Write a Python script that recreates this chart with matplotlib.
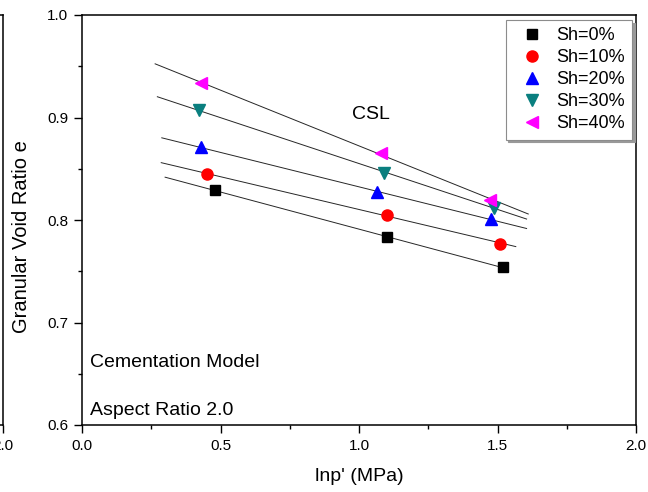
import numpy as np
import matplotlib.pyplot as plt

plt.rcParams['font.family'] = ['Liberation Sans', 'DejaVu Sans']

# datos
labels = ['Sh=0%', 'Sh=10%', 'Sh=20%', 'Sh=30%', 'Sh=40%']
x0 = [0.481, 1.100, 1.519]
y0 = [0.829, 0.783, 0.754]
x10 = [0.450, 1.100, 1.509]
y10 = [0.845, 0.805, 0.777]
x20 = [0.430, 1.066, 1.475]
y20 = [0.871, 0.827, 0.801]
x30 = [0.424, 1.091, 1.488]
y30 = [0.907, 0.846, 0.812]
x40 = [0.428, 1.080, 1.473]
y40 = [0.934, 0.865, 0.820]
# rango de cada recta de ajuste
fit_start = [0.300, 0.286, 0.288, 0.272, 0.264]
fit_end = [1.520, 1.566, 1.605, 1.605, 1.611]

xs = [x0, x10, x20, x30, x40]
ys = [y0, y10, y20, y30, y40]
markers = ['s', 'o', '^', 'v', '<']
colors = ['#000000', '#ff0000', '#0000ff', '#0a7f7f', '#ff00ff']
sizes = [6.5, 8, 8, 8, 8]

W, H = 648, 492
fig = plt.figure(figsize=(W / 100, H / 100), dpi=100)
pos = [82 / W, (H - 425) / H, 554 / W, 410 / H]
ax = fig.add_axes(pos)

# panel vecino cortado a la izquierda (solo se ve su borde derecho)
ax0 = fig.add_axes([2.7 / W - pos[2], pos[1], pos[2], pos[3]])
ax0.set_xlim(0, 2)
ax0.set_ylim(0.6, 1.0)
ax0.set_xticks([2.0])
ax0.set_xticklabels(['2.0'])
ax0.set_yticks([])
ax0.tick_params(axis='x', direction='out', length=6, width=1, labelsize=11, pad=4)

handles = []
for i in range(len(labels)):
    a, b = np.polyfit(xs[i], ys[i], 1)
    xl = np.array([fit_start[i], fit_end[i]])
    ax.plot(xl, a * xl + b, color='0.15', lw=0.7, zorder=2)
for i in range(len(labels)):
    h, = ax.plot(xs[i], ys[i], ls='none', marker=markers[i], ms=sizes[i],
                 color=colors[i], mec=colors[i], label=labels[i], zorder=3)
    handles.append(h)

ax.set_xlim(0, 2)
ax.set_ylim(0.6, 1.0)
ax.set_xticks([0.0, 0.5, 1.0, 1.5, 2.0])
ax.set_yticks([0.6, 0.7, 0.8, 0.9, 1.0])
ax.set_xticks([0.25, 0.75, 1.25, 1.75], minor=True)
ax.set_yticks([0.65, 0.75, 0.85, 0.95], minor=True)
ax.xaxis.set_major_formatter(plt.FormatStrFormatter('%.1f'))
ax.yaxis.set_major_formatter(plt.FormatStrFormatter('%.1f'))
ax.tick_params(which='major', direction='out', length=6, width=1, labelsize=11, pad=4)
ax.tick_params(which='minor', direction='out', length=3, width=1)
for s in ax.spines.values():
    s.set_linewidth(1.1)
for s in ax0.spines.values():
    s.set_linewidth(1.1)

ax.set_xlabel("lnp' (MPa)", fontsize=14, labelpad=11)
ax.set_ylabel('Granular Void Ratio e', fontsize=14.5)
ax.yaxis.set_label_coords(-51 / 554, 0.46)

ax.text(352 / W, 1 - 119 / H, 'CSL', transform=fig.transFigure, fontsize=14)
ax.text(90 / W, 1 - 367 / H, 'Cementation Model', transform=fig.transFigure, fontsize=14)
ax.text(90 / W, 1 - 415 / H, 'Aspect Ratio 2.0', transform=fig.transFigure, fontsize=14)

leg = ax.legend(handles=handles, loc='upper right',
                bbox_to_anchor=(632 / W, 1 - 20 / H), bbox_transform=fig.transFigure,
                borderaxespad=0, fontsize=13, frameon=True, fancybox=False,
                edgecolor='0.55', framealpha=1, labelspacing=0.28,
                handletextpad=0.3, borderpad=0.4, handlelength=2.1,
                shadow={'color': '0.6', 'alpha': 1})
leg.get_frame().set_linewidth(0.8)

fig.savefig('out.png', dpi=100)
